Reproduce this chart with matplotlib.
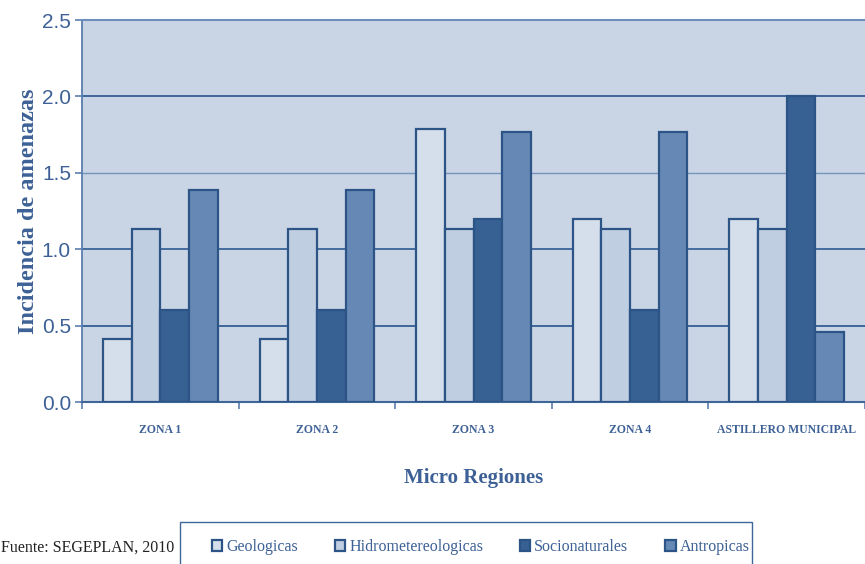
import matplotlib
matplotlib.use("Agg")
import matplotlib.pyplot as plt
import numpy as np
from matplotlib.patches import Rectangle

categories = ["ZONA 1", "ZONA 2", "ZONA 3", "ZONA 4", "ASTILLERO MUNICIPAL"]
series_names = ["Geologicas", "Hidrometereologicas", "Socionaturales", "Antropicas"]
geologicas = [0.41, 0.41, 1.79, 1.20, 1.20]
hidrometereologicas = [1.13, 1.13, 1.13, 1.13, 1.13]
socionaturales = [0.60, 0.60, 1.20, 0.60, 2.00]
antropicas = [1.39, 1.39, 1.77, 1.77, 0.46]
yticks = [0.0, 0.5, 1.0, 1.5, 2.0, 2.5]

series = [geologicas, hidrometereologicas, socionaturales, antropicas]
fills = ["#D5DFEB", "#C0CEE1", "#376093", "#6688B5"]
edge = "#2C5486"

txt = "#3D6196"
serif = ["Liberation Serif", "DejaVu Serif"]

fig = plt.figure(figsize=(8.65, 5.64), dpi=100)
ax = fig.add_axes([0.0948, 0.2872, 0.9052, 0.6773])
ax.set_facecolor("#C9D5E4")

x = np.arange(len(categories))
w = 0.183
handles = []
for i, (vals, fc) in enumerate(zip(series, fills)):
    b = ax.bar(x + (i - 1.5) * w, vals, width=w, color=fc, edgecolor=edge,
               linewidth=1.6, zorder=3, label=series_names[i])
    handles.append(b)

ax.set_xlim(-0.5, len(categories) - 0.5)
ax.set_ylim(0, 2.5)
ax.set_yticks(yticks)
ax.set_yticklabels([f"{v:.1f}" for v in yticks], fontsize=15, color=txt,
                   family=["Liberation Sans"])
grid_colors = {0.5: "#3F6699", 1.0: "#456C9F", 1.5: "#7794BE", 2.0: "#3F6699"}
for yv, c in grid_colors.items():
    ax.axhline(yv, color=c, linewidth=1.4 if yv != 1.5 else 1.0, zorder=1)
ax.tick_params(axis="y", length=5, color="#5A7EAE", width=1.2, pad=3)

ax.set_xticks(x)
ax.set_xticklabels(categories, fontsize=8.5, color=txt, fontweight="bold",
                   family=serif)
ax.set_xticks(np.arange(-0.5, len(categories)), minor=True)
ax.tick_params(axis="x", which="major", length=0, pad=16)
ax.tick_params(axis="x", which="minor", length=5, color="#5A7EAE", width=1.2)

ax.spines["right"].set_visible(False)
ax.spines["left"].set_color("#5A7EAE")
ax.spines["left"].set_linewidth(1.3)
ax.spines["bottom"].set_color("#3F6699")
ax.spines["bottom"].set_linewidth(1.5)
ax.spines["top"].set_color("#6E8FBB")
ax.spines["top"].set_linewidth(1.5)

ax.set_xlabel("Micro Regiones", fontsize=15, fontweight="bold", color=txt,
              family=serif, labelpad=23)
ax.set_ylabel("Incidencia de amenazas", fontsize=17.5, fontweight="bold",
              color=txt, family=serif, labelpad=2)

fig.text(1 / 865, 1 - 548 / 564, "Fuente: SEGEPLAN, 2010", fontsize=11.5,
         color="#222222", family=serif, ha="left", va="center")

# legend frame (extends past the bottom edge, as in the reference)
fig.patches.append(Rectangle((180 / 865, -0.02), (752 - 180) / 865,
                             0.02 + (564 - 522) / 564,
                             transform=fig.transFigure, facecolor="white",
                             edgecolor="#3F6699", linewidth=1.0, zorder=0))

leg = fig.legend(handles=handles, labels=series_names, loc="center left",
                 bbox_to_anchor=(212 / 865, 1 - 547 / 564), ncol=4,
                 frameon=False, prop={"family": serif, "size": 11.5},
                 handlelength=0.65, handleheight=0.75, handletextpad=0.25,
                 borderaxespad=0, borderpad=0, columnspacing=2.3)
for t in leg.get_texts():
    t.set_color(txt)

fig.savefig("out.png", dpi=100)
